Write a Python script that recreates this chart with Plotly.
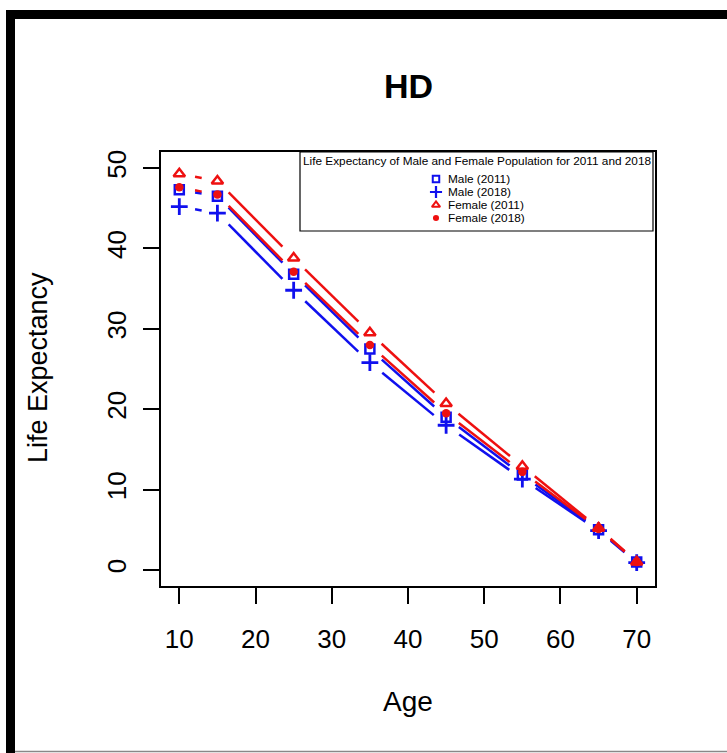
import math
import plotly.graph_objects as go

# ---------------- data ----------------
ages = [10, 15, 25, 35, 45, 55, 65, 70]
male_2011 = [47.3, 46.5, 36.8, 27.5, 19.0, 11.8, 5.0, 1.0]
male_2018 = [45.2, 44.4, 34.8, 25.8, 18.0, 11.3, 4.9, 0.9]
female_2011 = [49.3, 48.4, 38.8, 29.5, 20.7, 12.9, 5.2, 1.0]
female_2018 = [47.6, 46.7, 37.1, 28.0, 19.5, 12.2, 5.1, 1.0]
series_names = ["Male (2011)", "Male (2018)", "Female (2011)", "Female (2018)"]
x_ticks = [10, 20, 30, 40, 50, 60, 70]
y_ticks = [0, 10, 20, 30, 40, 50]
legend_title = "Life Expectancy of Male and Female Population for 2011 and 2018"

# ---------------- layout geometry ----------------
W, H = 727, 753
L, R, T, B = 161, 72, 152, 167
PW, PH = W - L - R, H - T - B
XR = [7.6, 72.4]
YR = [-2.0, 52.0]
FONT = "Liberation Sans, Arial, Helvetica, sans-serif"

sx = PW / (XR[1] - XR[0])
sy = PH / (YR[1] - YR[0])


def gapped(xs, ys, gap=16.0):
    """R type='b': segments between points, shortened near each point."""
    X, Y = [], []
    for i in range(len(xs) - 1):
        x1, y1 = xs[i] * sx, ys[i] * sy
        x2, y2 = xs[i + 1] * sx, ys[i + 1] * sy
        dx, dy = x2 - x1, y2 - y1
        d = math.hypot(dx, dy)
        if d <= 2 * gap:
            continue
        t = gap / d
        X += [(x1 + t * dx) / sx, (x2 - t * dx) / sx, None]
        Y += [(y1 + t * dy) / sy, (y2 - t * dy) / sy, None]
    return X, Y


styles = [
    dict(color="#1010ee", symbol="square-open", size=9, lw=2.5),
    dict(color="#1010ee", symbol="cross-thin-open", size=12, lw=2.8),
    dict(color="#ee1010", symbol="triangle-up-open", size=10, lw=2.5),
    dict(color="#ee1010", symbol="circle", size=8.5, lw=0),
]
data = [male_2011, male_2018, female_2011, female_2018]

fig = go.Figure()
for name, ys, st in zip(series_names, data, styles):
    gx, gy = gapped(ages, ys)
    fig.add_trace(go.Scatter(x=gx, y=gy, mode="lines", showlegend=False,
                             line=dict(color=st["color"], width=2.5),
                             hoverinfo="skip"))
    fig.add_trace(go.Scatter(x=ages, y=ys, mode="markers", name=name, showlegend=False,
                             marker=dict(symbol=st["symbol"], size=st["size"], color=st["color"],
                                         line=dict(color=st["color"], width=st["lw"]))))

# ---------------- legend (pixel coordinate overlay axes) ----------------
leg_x_marker = 436
leg_y = [179, 192, 205, 218]
for name, st, ly in zip(series_names, styles, leg_y):
    fig.add_trace(go.Scatter(x=[leg_x_marker], y=[ly], mode="markers", xaxis="x2", yaxis="y2",
                             showlegend=False, hoverinfo="skip",
                             marker=dict(symbol=st["symbol"], size=st["size"] * 0.72,
                                         color=st["color"],
                                         line=dict(color=st["color"], width=st["lw"] * 0.8))))
    fig.add_annotation(x=leg_x_marker + 10, y=ly, xref="x2", yref="y2", text=name,
                       showarrow=False, xanchor="left", yanchor="middle",
                       font=dict(family=FONT, size=11.8, color="black"))
fig.add_annotation(x=477, y=161, xref="x2", yref="y2", text=legend_title, showarrow=False,
                   xanchor="center", yanchor="middle",
                   font=dict(family=FONT, size=11.8, color="black"))
fig.add_shape(type="rect", xref="x2", yref="y2", x0=300, x1=653, y0=152, y1=231,
              line=dict(color="black", width=1.2), fillcolor="rgba(0,0,0,0)")


def px_x(p):
    return (p - L) / PW


def px_y(p):
    return (H - B - p) / PH


# outer black border of the screenshot
fig.add_shape(type="rect", xref="paper", yref="paper", x0=px_x(6), x1=px_x(15),
              y0=px_y(753), y1=px_y(10), fillcolor="black", line=dict(width=0))
fig.add_shape(type="rect", xref="paper", yref="paper", x0=px_x(6), x1=px_x(727),
              y0=px_y(19), y1=px_y(10), fillcolor="black", line=dict(width=0))
fig.add_shape(type="line", xref="paper", yref="paper", x0=px_x(15), x1=px_x(727),
              y0=px_y(751.5), y1=px_y(751.5), line=dict(color="#888888", width=1.5))

# titles
fig.add_annotation(x=0.5, y=px_y(86), xref="paper", yref="paper", text="<b>HD</b>",
                   showarrow=False, xanchor="center", yanchor="middle",
                   font=dict(family=FONT, size=34, color="black"))
fig.add_annotation(x=0.5, y=px_y(701), xref="paper", yref="paper", text="Age",
                   showarrow=False, xanchor="center", yanchor="middle",
                   font=dict(family=FONT, size=28, color="black"))
fig.add_annotation(x=px_x(38), y=px_y(368), xref="paper", yref="paper", text="Life Expectancy",
                   showarrow=False, xanchor="center", yanchor="middle", textangle=-90,
                   font=dict(family=FONT, size=27, color="black"))

axis_common = dict(showgrid=False, zeroline=False, showline=True, mirror=True,
                   linecolor="black", linewidth=1.5, ticks="outside", ticklen=16,
                   tickwidth=1.5, tickcolor="black",
                   tickfont=dict(family=FONT, size=26, color="black"))

fig.update_layout(
    width=W, height=H,
    margin=dict(l=L, r=R, t=T, b=B, pad=0),
    paper_bgcolor="white", plot_bgcolor="white",
    showlegend=False,
    xaxis=dict(range=XR, tickvals=x_ticks, ticklabelstandoff=13, **axis_common),
    yaxis=dict(range=YR, tickvals=y_ticks, tickangle=-90, ticklabelstandoff=7, **axis_common),
    xaxis2=dict(range=[L, W - R], overlaying="x", visible=False, fixedrange=True),
    yaxis2=dict(range=[H - B, T], overlaying="y", visible=False, fixedrange=True),
)

fig.write_html("out.html", config={"displayModeBar": False},
               post_script="document.body.style.margin='0';document.body.style.padding='0';")
